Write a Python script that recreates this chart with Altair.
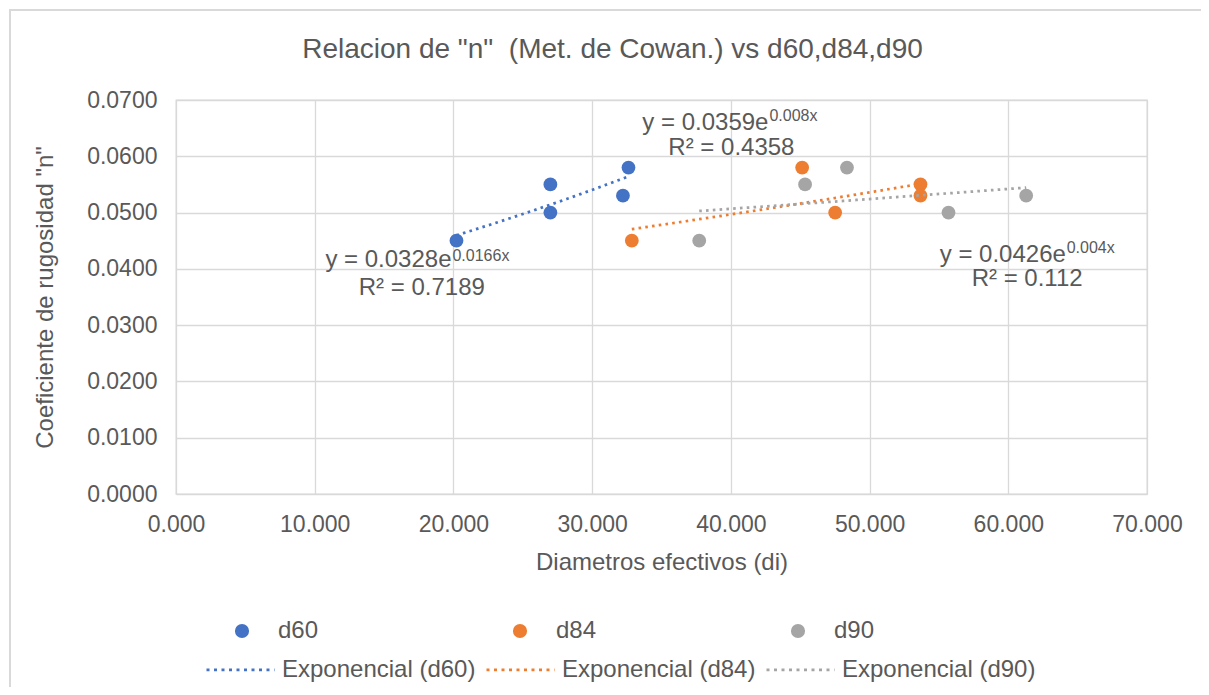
import altair as alt
import pandas as pd

FONT = "Liberation Sans"
TXT = "#595959"
GRID = "#d9d9d9"

series_names = ["d60", "d84", "d90"]
trend_names = ["Exponencial (d60)", "Exponencial (d84)", "Exponencial (d90)"]
colors = ["#4472C4", "#ED7D31", "#A5A5A5"]

d60_x = [20.22, 26.99, 26.99, 32.22, 32.62]
d60_y = [0.045, 0.055, 0.050, 0.053, 0.058]
d84_x = [32.86, 45.14, 47.52, 53.67, 53.67]
d84_y = [0.045, 0.058, 0.050, 0.055, 0.053]
d90_x = [37.72, 45.35, 48.37, 55.69, 61.29]
d90_y = [0.045, 0.055, 0.058, 0.050, 0.053]

x_ticks = [0, 10, 20, 30, 40, 50, 60, 70]
y_ticks = [0.0, 0.01, 0.02, 0.03, 0.04, 0.05, 0.06, 0.07]

eq_text = ["y = 0.0328e", "y = 0.0359e", "y = 0.0426e"]
eq_x = [19.86, 42.71, 64.15]
eq_y = [0.04038, 0.06467, 0.04127]
exp_text = ["0.0166x", "0.008x", "0.004x"]
exp_x = [19.93, 42.78, 64.21]
exp_y = [0.04145, 0.06627, 0.04276]
r2_text = ["R² = 0.7189", "R² = 0.4358", "R² = 0.112"]
r2_x = [17.72, 40.04, 61.36]
r2_y = [0.03536, 0.06023, 0.03690]

rows = []
for name, trend, xs, ys in zip(series_names, trend_names, [d60_x, d84_x, d90_x], [d60_y, d84_y, d90_y]):
    for xv, yv in zip(xs, ys):
        rows.append({"x": xv, "y": yv, "series": name, "trend": trend})
df = pd.DataFrame(rows)

xscale = alt.Scale(domain=[0, 70], nice=False, zero=True)
yscale = alt.Scale(domain=[0, 0.07], nice=False, zero=True)

xenc = alt.X("x:Q", scale=xscale, title="Diametros efectivos (di)",
             axis=alt.Axis(values=x_ticks, format=".3f", titleY=68, titleBaseline="middle",
                           labelFlush=False))
yenc = alt.Y("y:Q", scale=yscale, title='Coeficiente de rugosidad "n"',
             axis=alt.Axis(values=y_ticks, format=".4f", titleX=-131, titleY=197,
                           titleAngle=270, titleBaseline="middle", titleAlign="center",
                           labelFlush=False))

border = alt.Chart(pd.DataFrame({"a": [0]})).mark_rect(
    filled=False, stroke=GRID, strokeWidth=2
).encode(x=alt.value(-166), x2=alt.value(1100), y=alt.value(-90), y2=alt.value(650))

points = alt.Chart(df).mark_circle(size=190, opacity=1).encode(
    x=xenc, y=yenc,
    fill=alt.Fill("series:N", scale=alt.Scale(domain=series_names, range=colors),
                  legend=alt.Legend(title=None, orient="none", legendX=54, legendY=519,
                                    direction="horizontal", columns=3, columnPadding=189,
                                    gridAlign="all", symbolType="circle", symbolSize=200,
                                    symbolStrokeWidth=0, labelFontSize=24, labelColor=TXT,
                                    labelFont=FONT, labelOffset=24, labelLimit=300, padding=0)),
)

lines = alt.Chart(df).transform_regression(
    "x", "y", method="exp", groupby=["trend"]
).mark_line(strokeWidth=2.75, strokeDash=[2.6, 4.2]).encode(
    x=alt.X("x:Q", scale=xscale), y=alt.Y("y:Q", scale=yscale),
    stroke=alt.Stroke("trend:N", scale=alt.Scale(domain=trend_names, range=colors),
                      legend=alt.Legend(title=None, orient="none", legendX=29, legendY=534,
                                        direction="horizontal", columns=3, columnPadding=5,
                                        gridAlign="all", symbolType="stroke", symbolSize=4624,
                                        symbolStrokeWidth=2.75, symbolDash=[3, 4.5],
                                        labelFontSize=24, labelColor=TXT, labelFont=FONT,
                                        labelOffset=6, labelLimit=300, padding=0)),
)

eq_df = pd.DataFrame({"x": eq_x, "y": eq_y, "t": eq_text})
exp_df = pd.DataFrame({"x": exp_x, "y": exp_y, "t": exp_text})
r2_df = pd.DataFrame({"x": r2_x, "y": r2_y, "t": r2_text})

eq_txt = alt.Chart(eq_df).mark_text(align="right", baseline="alphabetic", fontSize=24,
                                    font=FONT, color=TXT).encode(
    x=alt.X("x:Q", scale=xscale), y=alt.Y("y:Q", scale=yscale), text="t:N")
exp_txt = alt.Chart(exp_df).mark_text(align="left", baseline="alphabetic", fontSize=16,
                                      font=FONT, color=TXT).encode(
    x=alt.X("x:Q", scale=xscale), y=alt.Y("y:Q", scale=yscale), text="t:N")
r2_txt = alt.Chart(r2_df).mark_text(align="center", baseline="alphabetic", fontSize=24,
                                    font=FONT, color=TXT).encode(
    x=alt.X("x:Q", scale=xscale), y=alt.Y("y:Q", scale=yscale), text="t:N")

chart = alt.layer(border, points, lines, eq_txt, exp_txt, r2_txt).properties(
    width=971, height=394,
    padding={"left": 168, "top": 92, "right": 54, "bottom": 193},
    autosize=alt.AutoSizeParams(type="none"),
    title=alt.TitleParams('Relacion de "n"\u00a0 (Met. de Cowan.) vs d60,d84,d90',
                          anchor="middle", frame="group", dx=-49, dy=55, offset=0,
                          fontSize=28, font=FONT, color=TXT, fontWeight="normal"),
).configure_view(stroke=GRID, strokeWidth=1.3).configure_axis(
    grid=True, gridColor=GRID, gridWidth=1.3, domain=False, ticks=False, tickSize=0,
    labelFont=FONT, labelFontSize=23, labelColor=TXT, labelPadding=19,
    titleFont=FONT, titleFontSize=24, titleColor=TXT, titleFontWeight="normal",
)

chart.save("out.html", embed_options={"renderer": "svg", "actions": False})
